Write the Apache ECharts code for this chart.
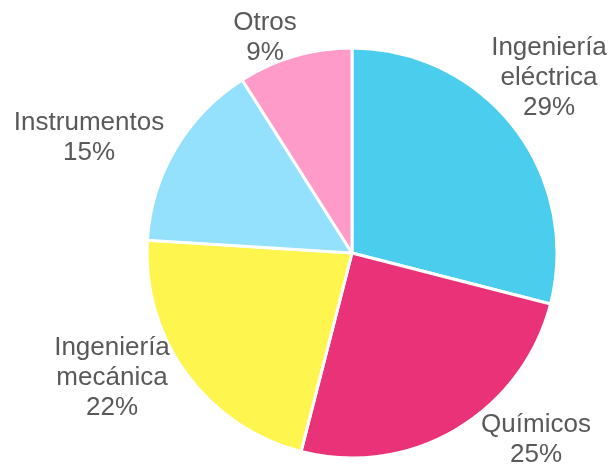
<!DOCTYPE html>
<html>
<head>
<meta charset="utf-8">
<script src="https://cdn.jsdelivr.net/npm/echarts@6/dist/echarts.min.js"></script>
<style>
  html, body { margin: 0; padding: 0; background: #fff; }
  #chart { width: 608px; height: 469px; }
</style>
</head>
<body>
<div id="chart"></div>
<script>
const categories = ["Ingeniería\neléctrica", "Químicos", "Ingeniería\nmecánica", "Instrumentos", "Otros"];
const values = [29, 25, 22, 15, 9];
const colors = ["#4BCDEE", "#EA3278", "#FEF54F", "#93E1FD", "#FE9BC9"];

// label block centres, as placed in the original
const labelPos = [[549, 78], [536, 440], [112, 378], [89, 138], [265, 38]];

const chart = echarts.init(document.getElementById("chart"));

chart.setOption({
  animation: false,
  series: [
    {
      type: "pie",
      center: [352, 253],
      radius: 205,
      startAngle: 90,
      clockwise: true,
      data: categories.map((name, i) => ({
        name: name,
        value: values[i],
        itemStyle: { color: colors[i] },
      })),
      itemStyle: {
        borderColor: "#fff",
        borderWidth: 3,
      },
      label: {
        show: true,
        position: "outside",
        formatter: "{b}\n{c}%",
        color: "#595959",
        fontFamily: "Liberation Sans, Arial, sans-serif",
        fontSize: 26,
        lineHeight: 30,
        align: "center",
        overflow: "none",
      },
      labelLine: { show: false },
      labelLayout: (params) => ({
        x: labelPos[params.dataIndex][0],
        y: labelPos[params.dataIndex][1],
        align: "center",
        verticalAlign: "middle",
      }),
      emphasis: { disabled: true },
    },
  ],
});
</script>
</body>
</html>
